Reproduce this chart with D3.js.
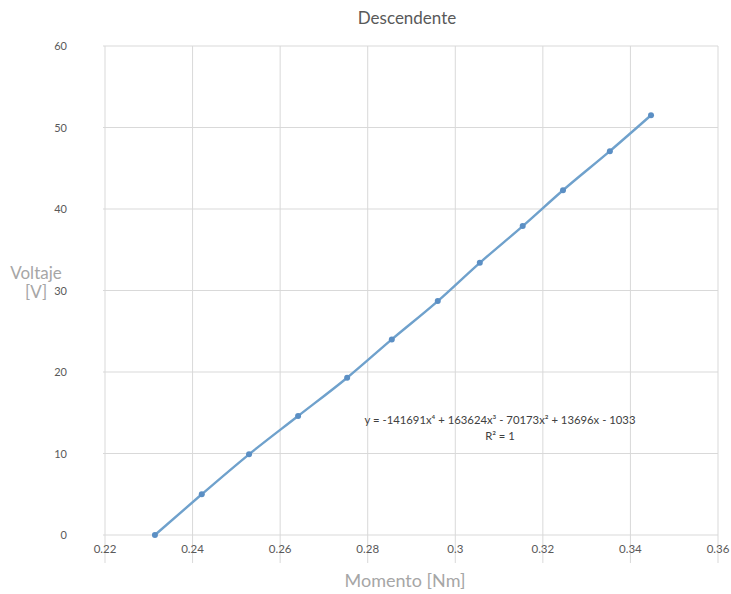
<!DOCTYPE html>
<html><head><meta charset="utf-8">
<script src="https://cdn.jsdelivr.net/npm/d3@7"></script>
<style>body{margin:0;background:#fff;} text{font-family:Lato,"Open Sans",sans-serif;}</style>
</head><body>
<svg id="c" width="731" height="594"></svg>
<script>
const momento = [0.2314,0.2421,0.2529,0.2641,0.2753,0.2855,0.2960,0.3056,0.3154,0.3246,0.3353,0.3447];
const voltaje = [0,5.0,9.9,14.6,19.3,24.0,28.7,33.4,37.9,42.3,47.1,51.5];
const xTicks = [0.22,0.24,0.26,0.28,0.3,0.32,0.34,0.36];
const yTicks = [0,10,20,30,40,50,60];
const title = "Descendente";
const xLabel = "Momento [Nm]";
const yLabel = ["Voltaje","[V]"];
const eq = "y = -141691x⁴ + 163624x³ - 70173x² + 13696x - 1033";
const r2 = "R² = 1";

const svg = d3.select("#c");
const L=105,R=718,T=46,B=535;
const x = d3.scaleLinear().domain([0.22,0.36]).range([L,R]);
const y = d3.scaleLinear().domain([0,60]).range([B,T]);
const grid="#d9d9d9";
const data = momento.map((m,i)=>({x:m,y:voltaje[i]}));

svg.append("g").selectAll("line").data(yTicks).join("line")
  .attr("x1",L-2).attr("x2",R).attr("y1",d=>y(d)).attr("y2",d=>y(d))
  .attr("stroke",grid).attr("stroke-width",1);
svg.append("g").selectAll("line").data(xTicks).join("line")
  .attr("x1",d=>x(d)).attr("x2",d=>x(d)).attr("y1",T).attr("y2",563)
  .attr("stroke",grid).attr("stroke-width",1);

svg.append("g").selectAll("text").data(yTicks).join("text")
  .attr("x",L-38).attr("y",d=>y(d)+4).attr("text-anchor","end")
  .attr("font-size",11).attr("fill","#595959").text(d=>d);
svg.append("g").selectAll("text").data(xTicks).join("text")
  .attr("x",d=>x(d)).attr("y",B+18).attr("text-anchor","middle")
  .attr("font-size",11.5).attr("fill","#595959").text(d=>d3.format("")(d));

svg.append("path").datum(data)
  .attr("d",d3.line().x(d=>x(d.x)).y(d=>y(d.y)).curve(d3.curveMonotoneX))
  .attr("fill","none").attr("stroke","#6fa1cc").attr("stroke-width",2.4);
svg.append("g").selectAll("circle").data(data).join("circle")
  .attr("cx",d=>x(d.x)).attr("cy",d=>y(d.y)).attr("r",3)
  .attr("fill","#5b8fc4");

svg.append("text").attr("x",407).attr("y",24).attr("text-anchor","middle")
  .attr("font-size",17).attr("fill","#595959").text(title);
svg.append("text").attr("x",405).attr("y",587).attr("text-anchor","middle")
  .attr("font-size",18).attr("fill","#a6a6a6").text(xLabel);
svg.append("g").selectAll("text").data(yLabel).join("text")
  .attr("x",36).attr("y",(d,i)=>279+i*19).attr("text-anchor","middle")
  .attr("font-size",17).attr("fill","#a6a6a6").text(d=>d);

svg.append("text").attr("x",500).attr("y",424).attr("text-anchor","middle")
  .attr("font-size",11.3).attr("fill","#404040").text(eq);
svg.append("text").attr("x",500).attr("y",440).attr("text-anchor","middle")
  .attr("font-size",11.3).attr("fill","#404040").text(r2);
</script>
</body></html>
